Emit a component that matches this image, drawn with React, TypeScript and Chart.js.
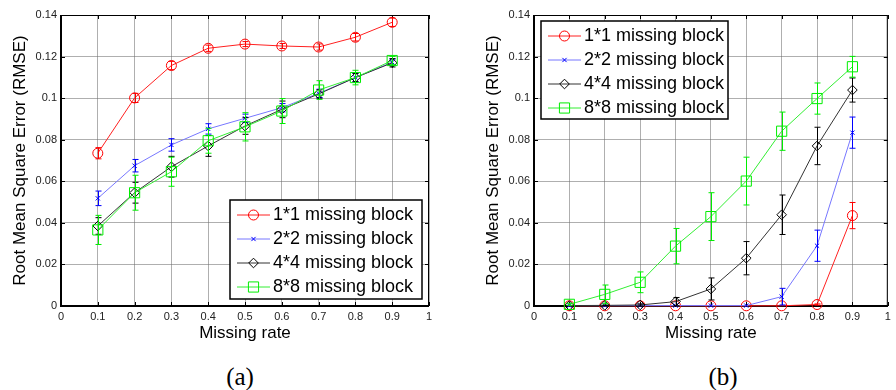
import React, { useEffect, useRef } from "react";
import { Chart, registerables } from "chart.js";

Chart.register(...registerables);

const rates = [0.1, 0.2, 0.3, 0.4, 0.5, 0.6, 0.7, 0.8, 0.9];
const seriesLabels = ["1*1 missing block", "2*2 missing block", "4*4 missing block", "8*8 missing block"];

// Panel (a)
const a11 = [0.0735, 0.1001, 0.1157, 0.124, 0.126, 0.1251, 0.1246, 0.1293, 0.1365];
const a11Err = [0.0027, 0.0022, 0.002, 0.0015, 0.0012, 0.0012, 0.0015, 0.0018, 0.002];
const a22 = [0.0518, 0.0675, 0.0775, 0.0852, 0.0903, 0.0954, 0.1023, 0.1099, 0.1173];
const a22Err = [0.0035, 0.003, 0.003, 0.0025, 0.002, 0.002, 0.002, 0.002, 0.0015];
const a44 = [0.0385, 0.0545, 0.067, 0.077, 0.0866, 0.0946, 0.102, 0.1099, 0.117];
const a44Err = [0.004, 0.005, 0.005, 0.005, 0.004, 0.004, 0.002, 0.002, 0.002];
const a88 = [0.0366, 0.0545, 0.0646, 0.0795, 0.0862, 0.0938, 0.1039, 0.1099, 0.1181];
const a88Err = [0.007, 0.0084, 0.007, 0.006, 0.0068, 0.006, 0.0045, 0.0035, 0.002];

// Panel (b)
const b11 = [0.0001, 0.0001, 0.0001, 0.0001, 0.0001, 0.0001, 0.0001, 0.0007, 0.0435];
const b11Err = [0, 0, 0, 0, 0, 0, 0, 0.0003, 0.0063];
const b22 = [0.0002, 0.0002, 0.0002, 0.0002, 0.0002, 0.0002, 0.0045, 0.029, 0.0834];
const b22Err = [0, 0, 0, 0, 0, 0, 0.004, 0.0075, 0.0075];
const b44 = [0.0002, 0.0003, 0.0005, 0.0021, 0.0082, 0.023, 0.0439, 0.077, 0.1039];
const b44Err = [0, 0.0001, 0.0005, 0.002, 0.0053, 0.008, 0.0095, 0.009, 0.0058];
const b88 = [0.0008, 0.0056, 0.0114, 0.0288, 0.043, 0.0601, 0.0841, 0.0998, 0.1151];
const b88Err = [0.0005, 0.0045, 0.005, 0.0085, 0.0115, 0.0115, 0.0092, 0.0075, 0.005];

const xTicks = [0, 0.1, 0.2, 0.3, 0.4, 0.5, 0.6, 0.7, 0.8, 0.9, 1];
const yTicks = [0, 0.02, 0.04, 0.06, 0.08, 0.1, 0.12, 0.14];

const styles = [
  { line: "#ff2020", mark: "#ff0000", point: "circle", radius: 5 },
  { line: "#7777ff", mark: "#0000ff", point: "crossRot", radius: 3 },
  { line: "#333333", mark: "#000000", point: "rectRot", radius: 4.8 },
  { line: "#33ee33", mark: "#00ee00", point: "rect", radius: 7.2 },
];

const FONT = "'Liberation Sans', Arial, sans-serif";

function drawMarker(ctx: CanvasRenderingContext2D, style: string, x: number, y: number, r: number, color: string) {
  ctx.save();
  ctx.strokeStyle = color;
  ctx.lineWidth = 1;
  ctx.beginPath();
  if (style === "circle") {
    ctx.arc(x, y, r, 0, Math.PI * 2);
  } else if (style === "crossRot") {
    const d = r * Math.SQRT1_2;
    ctx.moveTo(x - d, y - d); ctx.lineTo(x + d, y + d);
    ctx.moveTo(x - d, y + d); ctx.lineTo(x + d, y - d);
  } else if (style === "rectRot") {
    ctx.moveTo(x, y - r); ctx.lineTo(x + r, y); ctx.lineTo(x, y + r); ctx.lineTo(x - r, y); ctx.closePath();
  } else {
    const s = r * Math.SQRT1_2;
    ctx.rect(x - s, y - s, 2 * s, 2 * s);
  }
  ctx.stroke();
  ctx.restore();
}

const matlabPlugin = {
  id: "matlabBox",
  beforeDatasetsDraw(chart: any) {
    const { ctx, chartArea: a, scales } = chart;
    ctx.save();
    ctx.strokeStyle = "#000";
    ctx.lineWidth = 1;
    // inward tick marks on all sides
    ctx.beginPath();
    xTicks.forEach((v) => {
      const px = Math.round(scales.x.getPixelForValue(v)) + 0.5;
      ctx.moveTo(px, a.bottom); ctx.lineTo(px, a.bottom - 4);
      ctx.moveTo(px, a.top); ctx.lineTo(px, a.top + 4);
    });
    yTicks.forEach((v) => {
      const py = Math.round(scales.y.getPixelForValue(v)) + 0.5;
      ctx.moveTo(a.left, py); ctx.lineTo(a.left + 4, py);
      ctx.moveTo(a.right, py); ctx.lineTo(a.right - 4, py);
    });
    ctx.stroke();
    // top / right thin border
    ctx.beginPath();
    ctx.moveTo(a.left, a.top + 0.5); ctx.lineTo(a.right - 0.5, a.top + 0.5); ctx.lineTo(a.right - 0.5, a.bottom);
    ctx.stroke();
    // left / bottom thick border
    ctx.lineWidth = 2;
    ctx.beginPath();
    ctx.moveTo(a.left, a.top); ctx.lineTo(a.left, a.bottom); ctx.lineTo(a.right, a.bottom);
    ctx.stroke();
    ctx.restore();
  },
  afterDatasetDraw(chart: any, args: any) {
    const { ctx, scales } = chart;
    const ds = chart.data.datasets[args.index];
    const errs: number[] = ds.errors || [];
    ctx.save();
    ctx.strokeStyle = ds.pointBorderColor;
    ctx.lineWidth = 1;
    ctx.beginPath();
    ds.data.forEach((p: any, i: number) => {
      const e = errs[i] || 0;
      if (e <= 0) return;
      const x = Math.round(scales.x.getPixelForValue(p.x)) + 0.5;
      const y1 = scales.y.getPixelForValue(p.y + e);
      const y2 = scales.y.getPixelForValue(p.y - e);
      ctx.moveTo(x, y1); ctx.lineTo(x, y2);
      ctx.moveTo(x - 3, y1); ctx.lineTo(x + 3, y1);
      ctx.moveTo(x - 3, y2); ctx.lineTo(x + 3, y2);
    });
    ctx.stroke();
    ctx.restore();
  },
  afterDraw(chart: any, _args: any, opts: any) {
    const { ctx } = chart;
    const L = opts.legendBox;
    if (!L) return;
    ctx.save();
    ctx.fillStyle = "#fff";
    ctx.fillRect(L.x, L.y, L.w, L.h);
    ctx.strokeStyle = "#000";
    ctx.lineWidth = 1.5;
    ctx.strokeRect(L.x, L.y, L.w, L.h);
    ctx.font = `18px ${FONT}`;
    ctx.textBaseline = "middle";
    ctx.textAlign = "left";
    chart.data.datasets.forEach((ds: any, i: number) => {
      const cy = L.y + 14.5 + i * 24;
      ctx.strokeStyle = ds.borderColor;
      ctx.lineWidth = 1;
      ctx.beginPath();
      ctx.moveTo(L.x + 7, cy + 0.5); ctx.lineTo(L.x + 40, cy + 0.5);
      ctx.stroke();
      const st = styles[i];
      drawMarker(ctx, st.point, L.x + 23.5, cy + 0.5, st.radius, st.mark);
      ctx.fillStyle = "#000";
      ctx.fillText(ds.label, L.x + 43, cy + 1);
    });
    ctx.restore();
  },
};

function fmt(v: number) {
  return String(Number(v.toFixed(2)));
}

function makeConfig(series: number[][], errors: number[][], yLeftWidth: number, yTitlePad: number, padRight: number, legendBox: any) {
  const datasets = series.map((vals, i) => ({
    label: seriesLabels[i],
    data: rates.map((r, j) => ({ x: r, y: vals[j] })),
    errors: errors[i],
    borderColor: styles[i].line,
    pointBorderColor: styles[i].mark,
    backgroundColor: "rgba(0,0,0,0)",
    pointBackgroundColor: "rgba(0,0,0,0)",
    borderWidth: 1,
    pointBorderWidth: 1,
    pointStyle: styles[i].point,
    pointRadius: styles[i].radius,
    pointHoverRadius: styles[i].radius,
    tension: 0,
    clip: false,
    order: 3 - i,
  }));
  return {
    type: "line",
    data: { datasets },
    options: {
      responsive: false,
      animation: false,
      events: [],
      layout: { padding: { left: 0, right: padRight, top: 15, bottom: 0 } },
      plugins: {
        legend: { display: false },
        tooltip: { enabled: false },
        matlabBox: { legendBox },
      },
      scales: {
        x: {
          type: "linear",
          min: 0,
          max: 1,
          afterBuildTicks: (s: any) => { s.ticks = xTicks.map((v) => ({ value: v })); },
          ticks: { callback: (v: number) => fmt(v), font: { family: FONT, size: 11 }, color: "#222", padding: 4, maxRotation: 0, autoSkip: false },
          grid: { color: "rgba(110,110,110,0.55)", lineWidth: 1, drawTicks: false },
          border: { display: false },
          title: { display: true, text: "Missing rate", font: { family: FONT, size: 17 }, color: "#000", padding: { top: 0, bottom: 6 } },
          afterFit: (s: any) => { s.height = 44; },
        },
        y: {
          type: "linear",
          min: 0,
          max: 0.14,
          afterBuildTicks: (s: any) => { s.ticks = yTicks.map((v) => ({ value: v })); },
          ticks: { callback: (v: number) => fmt(v), font: { family: FONT, size: 11 }, color: "#222", padding: 4, autoSkip: false },
          grid: { color: "rgba(110,110,110,0.55)", lineWidth: 1, drawTicks: false },
          border: { display: false },
          title: { display: true, text: "Root Mean Square Error (RMSE)", font: { family: FONT, size: 17 }, color: "#000", padding: { top: yTitlePad, bottom: 0 } },
          afterFit: (s: any) => { s.width = yLeftWidth; },
        },
      },
    },
    plugins: [matlabPlugin],
  } as any;
}

function Panel(props: { config: any; left: number; caption: string; captionCenter: number }) {
  const ref = useRef<HTMLCanvasElement | null>(null);
  useEffect(() => {
    if (!ref.current) return;
    const chart = new Chart(ref.current, props.config);
    return () => chart.destroy();
  }, []);
  return (
    <>
      <canvas ref={ref} width={448} height={350} style={{ position: "absolute", left: props.left, top: 0, width: 448, height: 350 }} />
      <div
        style={{
          position: "absolute",
          left: props.captionCenter - 100,
          width: 200,
          top: 363,
          textAlign: "center",
          fontFamily: "'Liberation Serif', 'Times New Roman', serif",
          fontSize: 25,
          lineHeight: "28px",
          color: "#000",
        }}
      >
        {props.caption}
      </div>
    </>
  );
}

export default function App() {
  const cfgA = makeConfig([a11, a22, a44, a88], [a11Err, a22Err, a44Err, a88Err], 61, 10, 19, { x: 230, y: 200, w: 192, h: 99 });
  const cfgB = makeConfig([b11, b22, b44, b88], [b11Err, b22Err, b44Err, b88Err], 86, 35, 2, { x: 93, y: 21, w: 187, h: 98 });
  return (
    <div style={{ position: "fixed", left: 0, top: 0, width: 896, height: 390, background: "#fff", overflow: "hidden" }}>
      <Panel config={cfgA} left={0} caption="(a)" captionCenter={240} />
      <Panel config={cfgB} left={448} caption="(b)" captionCenter={723} />
    </div>
  );
}
